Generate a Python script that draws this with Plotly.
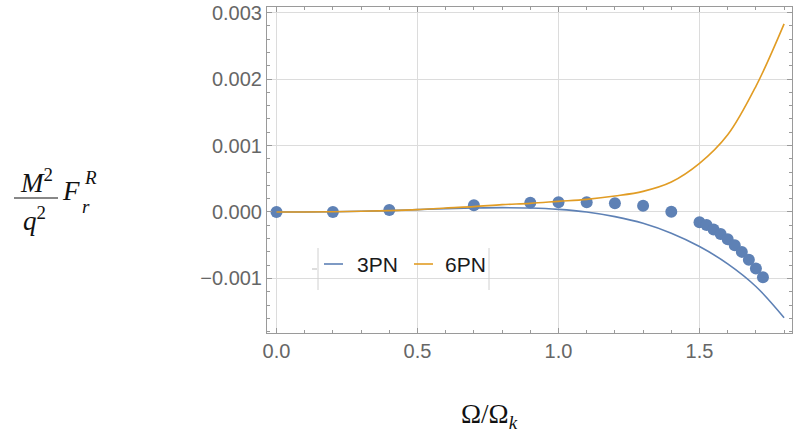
import plotly.graph_objects as go

# ---- data ----
pts_x = [0.0, 0.2, 0.4, 0.7, 0.9, 1.0, 1.1, 1.2, 1.3, 1.4,
         1.5, 1.525, 1.55, 1.575, 1.6, 1.625, 1.65, 1.675, 1.7, 1.725]
pts_y = [0.0, 0.0, 0.00003, 0.0001, 0.00014, 0.000146, 0.000146, 0.000133, 0.000095, 0.000005,
         -0.000155, -0.000195, -0.000265, -0.00033, -0.00041, -0.0005, -0.0006, -0.00072, -0.00085, -0.00098]

curve_x = [0.0, 0.1, 0.2, 0.3, 0.4, 0.5, 0.6, 0.7, 0.8, 0.9, 1.0, 1.1, 1.2,
           1.3, 1.4, 1.5, 1.6, 1.7, 1.8]
pn3_y = [0.0, 0.0, 0.000003, 0.00001, 0.00002, 0.000035, 0.00005, 0.00006, 0.000065, 0.00006,
         0.00004, 0.0, -0.00007, -0.00017, -0.00032, -0.00052, -0.00078, -0.00112, -0.00159]
pn6_y = [0.0, 0.0, 0.000004, 0.00001, 0.00002, 0.000035, 0.00006, 0.00008, 0.00011, 0.00013,
         0.00016, 0.00019, 0.00024, 0.00031, 0.00045, 0.00073, 0.00116, 0.00189, 0.00283]

series_names = ["3PN", "6PN"]
x_ticks = [0.0, 0.5, 1.0, 1.5]
y_ticks = [-0.001, 0.0, 0.001, 0.002, 0.003]

BLUE = "#5E81B5"
ORANGE = "#E19C24"

W, H = 793, 441
L, R, T, B = 267, 1, 7, 108
PW, PH = W - L - R, H - T - B


def px(x):
    return (x - L) / PW


def py(y):
    return (H - B - y) / PH


fig = go.Figure()
fig.add_trace(go.Scatter(x=pts_x, y=pts_y, mode="markers",
                         marker=dict(color=BLUE, size=12), showlegend=False))
fig.add_trace(go.Scatter(x=curve_x, y=pn3_y, mode="lines", name=series_names[0],
                         line=dict(color=BLUE, width=1.6, shape="spline"), showlegend=False))
fig.add_trace(go.Scatter(x=curve_x, y=pn6_y, mode="lines", name=series_names[1],
                         line=dict(color=ORANGE, width=1.6, shape="spline"), showlegend=False))

axis_common = dict(
    showline=True, linecolor="#9a9a9a", linewidth=1, mirror="allticks",
    ticks="inside", ticklen=5, tickcolor="#9a9a9a", tickwidth=1,
    showgrid=True, gridcolor="#dcdcdc", gridwidth=1, zeroline=False, automargin=False,
    tickfont=dict(family="Liberation Sans, Arial, sans-serif", size=20, color="#666666"),
)

fig.update_xaxes(range=[-0.0337, 1.828], tickvals=x_ticks, tickformat=".1f",
                 minor=dict(dtick=0.1, tick0=0, ticks="inside", ticklen=3, tickcolor="#9a9a9a", showgrid=False),
                 **axis_common)
fig.update_yaxes(range=[-0.00182, 0.003083], tickvals=y_ticks, tickformat=".3f",
                 minor=dict(dtick=0.0002, tick0=0, ticks="inside", ticklen=3, tickcolor="#9a9a9a", showgrid=False),
                 **axis_common)

shapes = []
annots = []
serif = "Liberation Serif, Times New Roman, serif"

# y-axis label (fraction)
annots.append(dict(x=px(36), y=py(181), xref="paper", yref="paper", showarrow=False,
                   text="<i>M</i><sup>2</sup>", font=dict(family=serif, size=27, color="#111"),
                   xanchor="center", yanchor="middle"))
shapes.append(dict(type="line", xref="paper", yref="paper", x0=px(14), x1=px(58), y0=py(198), y1=py(198),
                   line=dict(color="#111", width=1)))
annots.append(dict(x=px(34), y=py(219), xref="paper", yref="paper", showarrow=False,
                   text="<i>q</i><sup>2</sup>", font=dict(family=serif, size=27, color="#111"),
                   xanchor="center", yanchor="middle"))
annots.append(dict(x=px(71), y=py(191), xref="paper", yref="paper", showarrow=False,
                   text="<i>F</i>", font=dict(family=serif, size=27, color="#111"),
                   xanchor="center", yanchor="middle"))
annots.append(dict(x=px(86), y=py(206), xref="paper", yref="paper", showarrow=False,
                   text="<i>r</i>", font=dict(family=serif, size=19, color="#111"),
                   xanchor="center", yanchor="middle"))
annots.append(dict(x=px(90), y=py(177), xref="paper", yref="paper", showarrow=False,
                   text="<i>R</i>", font=dict(family=serif, size=19, color="#111"),
                   xanchor="center", yanchor="middle"))

# x-axis label
annots.append(dict(x=px(489), y=py(416), xref="paper", yref="paper", showarrow=False,
                   text="Ω/Ω<sub><i>k</i></sub>", font=dict(family=serif, size=27, color="#111"),
                   xanchor="center", yanchor="middle"))

# legend
for x0 in (318, 489):
    shapes.append(dict(type="line", xref="paper", yref="paper", x0=px(x0), x1=px(x0), y0=py(248), y1=py(290),
                       line=dict(color="#d0d0d0", width=1)))
shapes.append(dict(type="line", xref="paper", yref="paper", x0=px(312), x1=px(317), y0=py(269), y1=py(269),
                   line=dict(color="#bbbbbb", width=1)))
for (x0, x1, tx, col, name) in [(324, 343, 355, BLUE, series_names[0]), (414, 433, 443, ORANGE, series_names[1])]:
    shapes.append(dict(type="line", xref="paper", yref="paper", x0=px(x0), x1=px(x1), y0=py(264), y1=py(264),
                       line=dict(color=col, width=1.6)))
    annots.append(dict(x=px(tx), y=py(264), xref="paper", yref="paper", showarrow=False, text=name,
                       font=dict(family="Liberation Sans, Arial, sans-serif", size=21, color="#1a1a1a"),
                       xanchor="left", yanchor="middle"))

fig.update_layout(width=W, height=H, margin=dict(l=L, r=R, t=T, b=B, autoexpand=False),
                  paper_bgcolor="white", plot_bgcolor="white",
                  shapes=shapes, annotations=annots, showlegend=False)

fig.write_html("out.html", config={"displayModeBar": False},
               post_script="document.body.style.margin='0';document.body.style.padding='0';")
